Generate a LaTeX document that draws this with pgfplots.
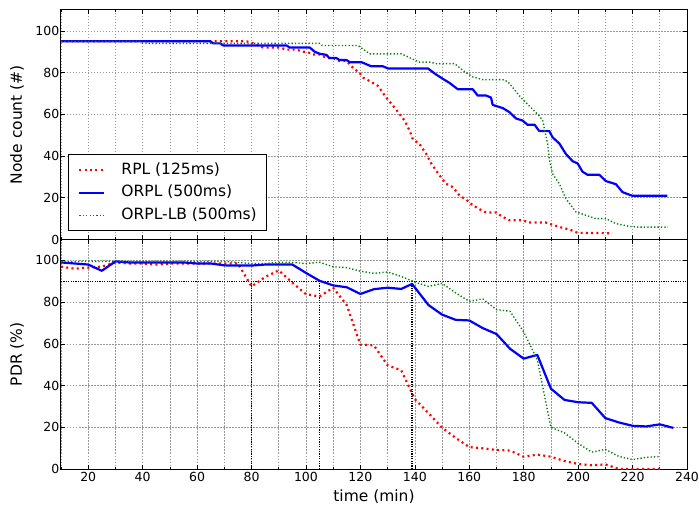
\documentclass[border=0pt]{standalone}
\usepackage{fontspec}
\setmainfont{DejaVu Sans}
\usepackage{pgfplots}
\pgfplotsset{compat=1.18}
\definecolor{mgreen}{rgb}{0,0.5,0}

\pgfplotsset{
  base/.style={
    scale only axis, width=626pt, height=229.5pt,
    xmin=10, xmax=240, ymin=0, ymax=110,
    xtick={20,40,...,240}, minor xtick={10,30,...,230},
    ytick={0,20,...,100},
    grid=both,
    major grid style={black!40, line width=0.6pt, dash pattern=on 1.5pt off 1.5pt},
    minor grid style={black!40, line width=0.6pt, dash pattern=on 1.5pt off 1.5pt},
    tick align=inside,
    major tick length=4pt, minor tick length=2pt,
    axis line style={line width=1pt},
    every tick/.style={black, line width=0.6pt},
    tick label style={font=\fontsize{12.5}{15}\selectfont},
    yticklabel style={inner xsep=1.5pt},
    xticklabel style={inner ysep=3pt},
    label style={font=\fontsize{15.5}{18}\selectfont},
    /pgf/number format/assume math mode=true,
    ylabel style={at={(axis description cs:-0.0703,0.5)}, anchor=center},
    xlabel style={at={(axis description cs:0.5,-0.122)}, anchor=center},
  },
  rpl/.style={color=red, line width=2.2pt, dash pattern=on 2pt off 3.3pt, line join=round},
  orpl/.style={color=blue, line width=2.2pt, line join=round},
  orplb/.style={color=mgreen, line width=1.4pt, dash pattern=on 1.3pt off 2.1pt, line join=round},
  refline/.style={black, line width=1.4pt, dash pattern=on 1.2pt off 1.2pt},
}

\begin{document}
\begin{tikzpicture}
\begin{axis}[base, name=top,
  xticklabels={},
  ylabel={Node count (\#)},
  legend cell align=left,
  legend image code/.code={\draw[#1] (0pt,0pt) -- (25pt,0pt);},
  legend style={at={(0.011,0.036)}, anchor=south west, draw=black, line width=0.8pt,
    font=\fontsize{15.5}{18}\selectfont, inner xsep=10pt, inner ysep=8pt,
    row sep=7.5pt, column sep=16pt,
    nodes={inner sep=0pt, text height=11.5pt, text depth=3.5pt}},
]
\addplot[rpl] coordinates {(10,95)(78.2,95)(80.6,94)(84.3,92)(90.4,92)(92.9,91)(96.5,91)(99,90)(100.2,90)(102.6,88.7)(105.1,88.7)(107.5,87)(110,87)(112.4,85.5)(114.9,85.5)(117.3,82.3)(119.8,79.7)(121,77.6)(124,75.5)(126.5,73.6)(129.5,68)(132,64.1)(134.4,60.1)(136.3,56.9)(138.1,52.1)(139.3,48)(141.7,45.8)(144.2,41)(146,36.5)(149.1,30.7)(151.5,26.7)(154,25.1)(156.4,21.1)(158.9,19.1)(161.3,16.4)(163.8,14.5)(166.2,12.9)(169.9,12.9)(172.3,10.8)(174.8,9.2)(179.6,9.2)(182,8.1)(188.2,8.1)(189.4,7.6)(193.1,6)(196.8,4.8)(199.8,3.2)(212.6,3)};
\addplot[orpl] coordinates {(10,95)(64.8,95)(66,94)(68.5,94)(69.6,93)(92.9,93)(94,92)(101.4,92)(103.2,90)(105.1,89)(107.5,88.5)(108.6,87)(111.1,87)(112.4,86)(114.9,86)(116.1,85)(120.4,85)(124,83)(128.3,83)(130.1,82)(144.8,82)(147.9,79)(150.3,77)(152.8,75)(155.8,72)(161.3,72)(163.1,69)(166.2,69)(168,68)(168.6,64.5)(172.3,63)(174.8,61)(177.2,58)(179.6,57)(181.4,55)(184,55)(185.7,52)(189.4,52)(190.6,49)(193.1,46)(195.5,41)(198,37.5)(199.8,36.5)(201.6,32.5)(203.5,31)(207.8,31)(210.2,28)(213.9,26.5)(216.3,22.7)(219.8,21)(232.8,21)};
\addplot[orplb] coordinates {(10,95)(39,95)(40,94)(105,94)(106,93)(119.1,93)(123.4,89)(135,89)(138.7,86.8)(141.7,85)(145.4,85)(147.9,84.3)(154.6,84.3)(158.3,80.4)(161.3,77.9)(165,76.6)(172.3,76.6)(174.1,75.7)(176,72.8)(179,68)(182,64.1)(185.7,59.3)(187,56.9)(188.8,45.8)(189.4,38.6)(190.6,31.5)(193.1,26.7)(195.5,19.6)(199.2,13.2)(202.9,11.6)(206.5,10)(210.2,10)(213.9,7.6)(218.8,6.3)(222.5,5.9)(233,5.9)};
\legend{RPL (125ms), ORPL (500ms), ORPL-LB (500ms)}
\end{axis}

\begin{axis}[base, at={(top.south west)}, anchor=north west,
  ylabel={PDR (\%)}, xlabel={time (min)},
]
\addplot[refline, forget plot] coordinates {(10,90)(240,90)};
\addplot[refline, forget plot] coordinates {(80,0)(80,90)};
\addplot[refline, forget plot] coordinates {(105,0)(105,90)};
\addplot[refline, forget plot] coordinates {(139,0)(139,90)};
\addplot[rpl] coordinates {(10,97)(15,96)(20,96.5)(25,97)(30,99)(35,98.5)(40,98.5)(45,98)(50,98.5)(55,98.5)(60,98.5)(65,98.5)(70,98.5)(75,98.5)(80,87.5)(85,92)(90,95.2)(95,89.3)(100,83.8)(105,82.7)(110,86.9)(115,78.5)(120,59.6)(125,59.2)(130,49.7)(135,47.3)(140,33.5)(145,26.8)(150,19.8)(155,14.9)(160,10.5)(165,9.9)(170,9.1)(175,8.8)(180,5.9)(185,6.9)(190,5.9)(195,3.8)(200,2.4)(205,1.8)(210,2.2)(215,0)(220,0)(225,0)(230,0)};
\addplot[orpl] coordinates {(10,99)(15,98.5)(20,98)(25,95)(30,99.5)(35,99)(40,99)(45,99)(50,99)(55,99)(60,98.5)(65,98.5)(70,97.6)(75,97.5)(80,97.5)(85,98)(90,98)(95,98)(100,94)(105,90.2)(110,88)(115,87.1)(120,83.9)(125,86.2)(130,86.9)(135,86.3)(139,88.7)(145,78.6)(150,74)(155,71.5)(160,71.2)(165,67.5)(170,64.7)(175,57.6)(180,52.9)(185,54.7)(190,38.5)(195,33.1)(200,32)(205,31.7)(210,24.4)(215,22.3)(220,20.7)(225,20.4)(230,21.4)(235,19.7)};
\addplot[orplb] coordinates {(10,99.5)(15,99.5)(20,99.5)(25,99.5)(30,99.5)(35,99.5)(40,99.5)(45,99.5)(50,99.5)(55,99.5)(60,99.5)(65,99.5)(70,99.5)(75,99)(80,98.5)(85,98.5)(90,99)(95,99)(100,98.5)(105,99.1)(110,96.9)(115,96.5)(120,94.8)(125,93.8)(130,94.4)(135,92.3)(140,89.6)(145,87.5)(150,89)(155,84.4)(160,80.4)(165,81.5)(170,76.4)(175,75.6)(180,65.7)(185,52.4)(190,20)(195,17.3)(200,12.3)(205,8.1)(210,9.4)(215,6)(220,4.5)(225,5.6)(230,6)};
\end{axis}
\pgfresetboundingbox
\path (-61pt,-268.7pt) rectangle (638pt,239.5pt);
\end{tikzpicture}
\end{document}
